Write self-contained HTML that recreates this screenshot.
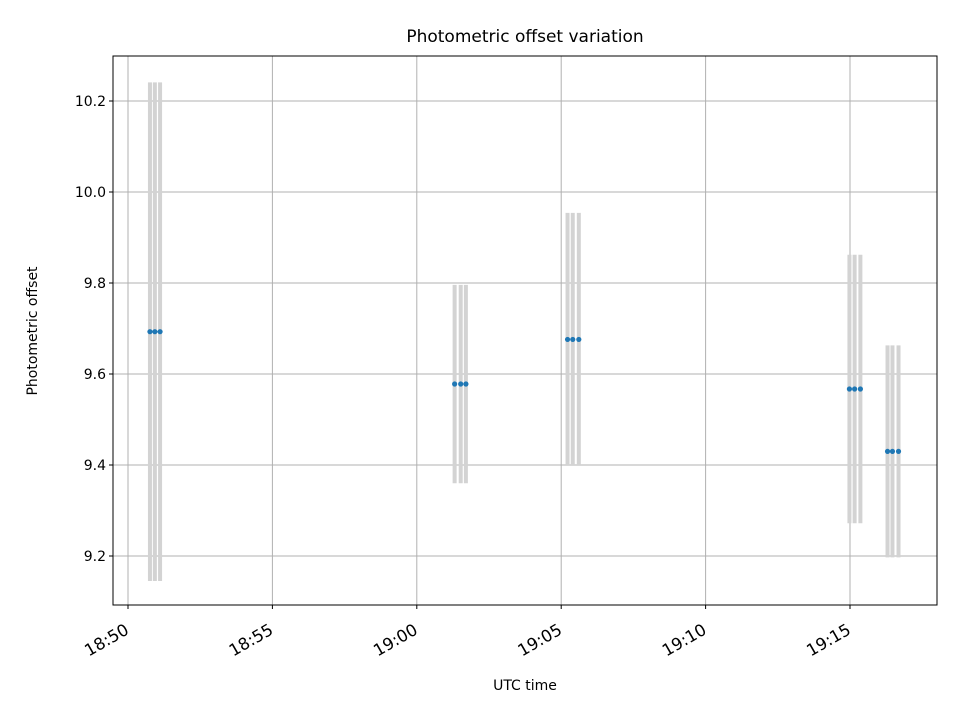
<!DOCTYPE html>
<html><head><meta charset="utf-8"><style>
body{margin:0;background:#fff;font-family:"DejaVu Sans","Liberation Sans",sans-serif}
</style></head><body>
<svg id="c" width="960" height="720" xmlns="http://www.w3.org/2000/svg"></svg>
<script>
const groupTimes=[[0.76,0.93,1.11],[11.31,11.52,11.70],[15.22,15.40,15.61],[24.98,25.16,25.36],[26.30,26.47,26.68]];
const values=[9.693,9.578,9.676,9.567,9.43];
const errors=[0.548,0.218,0.278,0.295,0.233];
const yTicks=[9.2,9.4,9.6,9.8,10.0,10.2];
const xTickMinutes=[0,5,10,15,20,25];
const xTickLabels=["18:50","18:55","19:00","19:05","19:10","19:15"];
const L=113,R=937,T=56,B=605;
const xs=m=>128+m*28.88;
const ys=v=>101+(10.2-v)*455;
const s=document.getElementById('c');const NS="http://www.w3.org/2000/svg";
function el(t,a,p){const e=document.createElementNS(NS,t);for(const k in a)e.setAttribute(k,a[k]);(p||s).appendChild(e);return e;}
el('rect',{x:0,y:0,width:960,height:720,fill:'#fff'});
yTicks.forEach(v=>{const y=ys(v);
 const g=el('line',{x1:L,x2:R,y1:y,y2:y,stroke:'#b0b0b0','stroke-width':1});
 
 el('line',{x1:L-4,x2:L,y1:y,y2:y,stroke:'#000'});
 const t=el('text',{x:L-7,y:y+5,'text-anchor':'end','font-size':14});t.textContent=v.toFixed(1);
 });
xTickMinutes.forEach((m,i)=>{const x=xs(m);
 const g=el('line',{x1:x,x2:x,y1:T,y2:B,stroke:'#b0b0b0','stroke-width':1});
 
 el('line',{x1:x,x2:x,y1:B,y2:B+4,stroke:'#000'});
 const tx=x+2,ty=B+28;
 const t=el('text',{x:tx,y:ty,'text-anchor':'end','font-size':16.5,transform:`rotate(-30 ${tx} ${ty})`});t.textContent=xTickLabels[i];
 });
groupTimes.forEach((ts,gi)=>{ts.forEach(m=>{const x=xs(m);
 const b=el('line',{x1:x,x2:x,y1:ys(values[gi]+errors[gi]),y2:ys(values[gi]-errors[gi]),stroke:'#d3d3d3','stroke-width':4});
 });});
groupTimes.forEach((ts,gi)=>{ts.forEach(m=>{
 const c=el('circle',{cx:xs(m),cy:ys(values[gi]),r:2.6,fill:'#1f77b4'});
 });});
const f=el('rect',{x:L,y:T,width:R-L,height:B-T,fill:'none',stroke:'#000','stroke-width':1});

let t=el('text',{x:525,y:42,'text-anchor':'middle','font-size':17});t.textContent='Photometric offset variation';

t=el('text',{x:525,y:690,'text-anchor':'middle','font-size':14});t.textContent='UTC time';

t=el('text',{x:37,y:331,'text-anchor':'middle','font-size':14,transform:'rotate(-90 37 331)'});t.textContent='Photometric offset';

</script>
</body></html>
